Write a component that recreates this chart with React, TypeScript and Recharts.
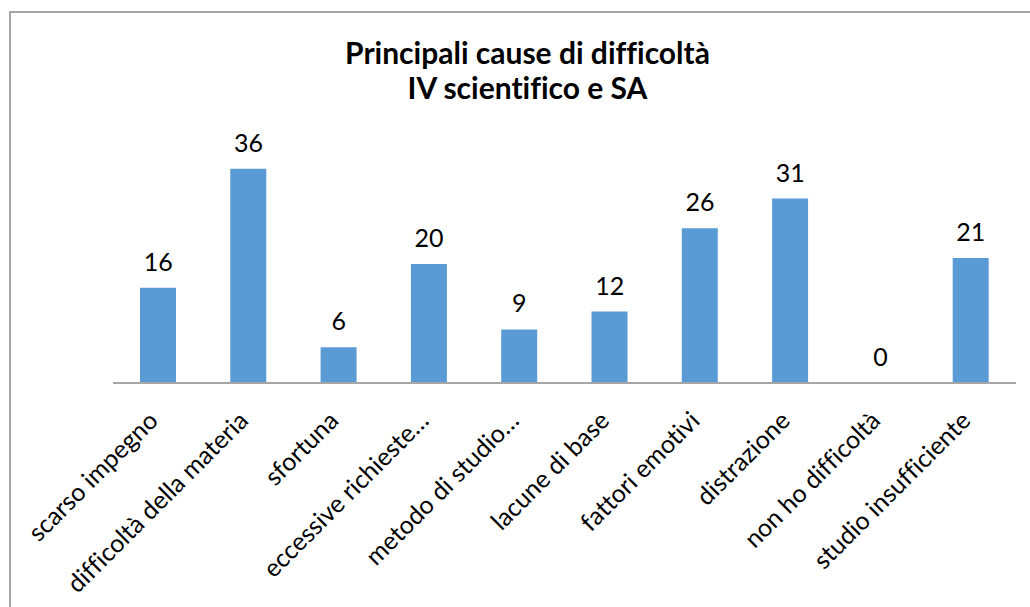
import React from "react"
import { ComposedChart, Bar, Line, XAxis, YAxis, LabelList } from "recharts"

const categories = [
  "scarso impegno",
  "difficoltà della materia",
  "sfortuna",
  "eccessive richieste…",
  "metodo di studio…",
  "lacune di base",
  "fattori emotivi",
  "distrazione",
  "non ho difficoltà",
  "studio insufficiente"
]

const counts = [16, 36, 6, 20, 9, 12, 26, 31, 0, 21]

const titleLines = ["Principali cause di difficoltà", "IV scientifico e SA"]

const data = categories.map((name, i) => ({ name, value: counts[i] }))

const FONT = "Lato, 'Open Sans', sans-serif"

function SlantTick(props: any) {
  const { x, y, payload } = props
  const ax = x - 12
  const ay = y + 18
  return (
    <text
      x={ax}
      y={ay}
      dy="0.75em"
      textAnchor="end"
      transform={`rotate(-45, ${ax}, ${ay})`}
      fontFamily={FONT}
      fontSize={25}
      fill="#000"
      style={{ fontVariantLigatures: "none" }}
    >
      {payload.value}
    </text>
  )
}

// labels hang off an invisible line so the zero bar gets one too
function ValueLabel(props: any) {
  const { x, y, value } = props
  return (
    <text
      x={Number(x)}
      y={Number(y) - 17}
      textAnchor="middle"
      fontFamily={FONT}
      fontSize={25}
      fill="#000"
    >
      {value}
    </text>
  )
}

export default function App() {
  return (
    <div
      style={{
        position: "fixed",
        left: 0,
        top: 0,
        width: 1030,
        height: 607,
        overflow: "hidden",
        background: "#fff"
      }}
    >
      <div
        style={{
          position: "absolute",
          left: 9,
          top: 11,
          width: 1100,
          height: 700,
          border: "2px solid #a6a6a6"
        }}
      />
      <div
        style={{
          position: "absolute",
          left: 0,
          width: 1055,
          top: 35,
          textAlign: "center",
          fontFamily: FONT,
          fontWeight: 700,
          fontSize: 30,
          lineHeight: "35px",
          color: "#000",
          fontVariantLigatures: "none"
        }}
      >
        {titleLines.map((t) => (
          <div key={t}>{t}</div>
        ))}
      </div>
      <div style={{ position: "absolute", left: 0, top: 0 }}>
        <ComposedChart
          width={1030}
          height={607}
          data={data}
          margin={{ top: 145, right: 14, bottom: 0, left: 113 }}
          barSize={36}
        >
          <XAxis
            dataKey="name"
            interval={0}
            height={224}
            tickLine={false}
            axisLine={{ stroke: "#a6a6a6", strokeWidth: 2 }}
            tick={<SlantTick />}
          />
          <YAxis hide domain={[0, 40]} />
          <Bar dataKey="value" fill="#5b9bd5" isAnimationActive={false} />
          <Line
            dataKey="value"
            stroke="none"
            dot={false}
            activeDot={false}
            isAnimationActive={false}
          >
            <LabelList dataKey="value" content={<ValueLabel />} />
          </Line>
        </ComposedChart>
      </div>
    </div>
  )
}
